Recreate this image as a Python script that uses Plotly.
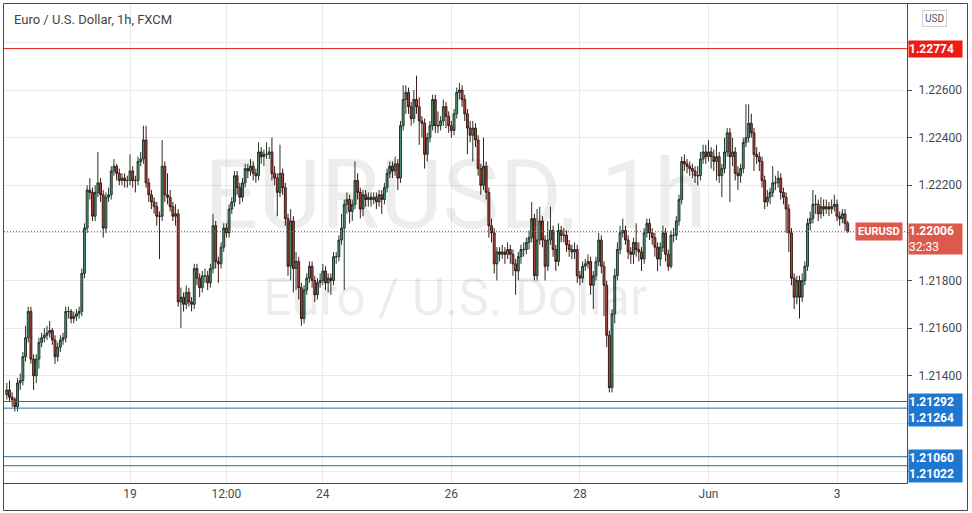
import pandas as pd
import plotly.graph_objects as go

# ---------------- data (EUR/USD 1h, FXCM) ----------------
start_time = "2021-05-17 02:00"
end_time = "2021-06-03 04:00"

opens = [
1.2132, 1.2134, 1.2131, 1.2130, 1.2127, 1.2137, 1.2138, 1.2148, 1.2156, 1.2167,
1.2147, 1.2140, 1.2147, 1.2154, 1.2156, 1.2157, 1.2158, 1.2159, 1.2155, 1.2148,
1.2152, 1.2155, 1.2156, 1.2167, 1.2167, 1.2164, 1.2165, 1.2166, 1.2167, 1.2183,
1.2202, 1.2218, 1.2217, 1.2207, 1.2217, 1.2221, 1.2216, 1.2202, 1.2215, 1.2216,
1.2226, 1.2228, 1.2225, 1.2222, 1.2223, 1.2222, 1.2222, 1.2226, 1.2222, 1.2222,
1.2230, 1.2231, 1.2239, 1.2221, 1.2216, 1.2213, 1.2211, 1.2207, 1.2207, 1.2228,
1.2216, 1.2215, 1.2211, 1.2207, 1.2208, 1.2171, 1.2173, 1.2170, 1.2175, 1.2171,
1.2170, 1.2185, 1.2181, 1.2177, 1.2182, 1.2182, 1.2179, 1.2185, 1.2203, 1.2188,
1.2187, 1.2194, 1.2202, 1.2200, 1.2210, 1.2213, 1.2224, 1.2219, 1.2215, 1.2221,
1.2227, 1.2226, 1.2228, 1.2225, 1.2224, 1.2234, 1.2232, 1.2233, 1.2233, 1.2234,
1.2225, 1.2223, 1.2217, 1.2225, 1.2219, 1.2206, 1.2186, 1.2205, 1.2185, 1.2188,
1.2177, 1.2164, 1.2176, 1.2181, 1.2186, 1.2180, 1.2174, 1.2179, 1.2180, 1.2184,
1.2179, 1.2181, 1.2180, 1.2190, 1.2190, 1.2197, 1.2202, 1.2212, 1.2214, 1.2209,
1.2212, 1.2222, 1.2217, 1.2210, 1.2216, 1.2214, 1.2215, 1.2214, 1.2215, 1.2213,
1.2216, 1.2214, 1.2219, 1.2225, 1.2228, 1.2226, 1.2229, 1.2223, 1.2245, 1.2256,
1.2259, 1.2253, 1.2248, 1.2256, 1.2253, 1.2247, 1.2246, 1.2233, 1.2240, 1.2245,
1.2256, 1.2245, 1.2245, 1.2247, 1.2253, 1.2249, 1.2245, 1.2243, 1.2250, 1.2259,
1.2260, 1.2256, 1.2250, 1.2244, 1.2241, 1.2244, 1.2239, 1.2227, 1.2220, 1.2228,
1.2217, 1.2203, 1.2200, 1.2187, 1.2192, 1.2191, 1.2192, 1.2191, 1.2193, 1.2191,
1.2187, 1.2184, 1.2190, 1.2193, 1.2193, 1.2196, 1.2198, 1.2206, 1.2182, 1.2197,
1.2205, 1.2197, 1.2186, 1.2197, 1.2201, 1.2193, 1.2188, 1.2201, 1.2199, 1.2199,
1.2195, 1.2193, 1.2192, 1.2193, 1.2182, 1.2181, 1.2186, 1.2187, 1.2188, 1.2178,
1.2182, 1.2188, 1.2197, 1.2186, 1.2178, 1.2157, 1.2135, 1.2166, 1.2182, 1.2193,
1.2200, 1.2201, 1.2197, 1.2192, 1.2191, 1.2196, 1.2193, 1.2192, 1.2189, 1.2200,
1.2204, 1.2200, 1.2198, 1.2194, 1.2189, 1.2194, 1.2200, 1.2191, 1.2186, 1.2199,
1.2199, 1.2205, 1.2214, 1.2230, 1.2229, 1.2228, 1.2227, 1.2226, 1.2224, 1.2224,
1.2231, 1.2234, 1.2232, 1.2234, 1.2232, 1.2230, 1.2232, 1.2224, 1.2227, 1.2234,
1.2242, 1.2232, 1.2234, 1.2225, 1.2224, 1.2227, 1.2238, 1.2240, 1.2246, 1.2242,
1.2233, 1.2232, 1.2230, 1.2222, 1.2213, 1.2215, 1.2217, 1.2221, 1.2221, 1.2223,
1.2217, 1.2215, 1.2210, 1.2200, 1.2181, 1.2173, 1.2180, 1.2173, 1.2180, 1.2186,
1.2204, 1.2206, 1.2212, 1.2212, 1.2208, 1.2211, 1.2210, 1.2211, 1.2210, 1.2211,
1.2212, 1.2207, 1.2206, 1.2208, 1.2204,
]

highs = [
1.2137, 1.2138, 1.2133, 1.2131, 1.2139, 1.2141, 1.2150, 1.2161, 1.2169, 1.2169,
1.2149, 1.2149, 1.2156, 1.2158, 1.2160, 1.2161, 1.2163, 1.2160, 1.2157, 1.2154,
1.2157, 1.2158, 1.2169, 1.2169, 1.2168, 1.2167, 1.2168, 1.2169, 1.2185, 1.2204,
1.2220, 1.2223, 1.2219, 1.2220, 1.2234, 1.2223, 1.2218, 1.2217, 1.2219, 1.2228,
1.2231, 1.2229, 1.2227, 1.2225, 1.2225, 1.2224, 1.2233, 1.2228, 1.2224, 1.2232,
1.2234, 1.2245, 1.2245, 1.2223, 1.2218, 1.2215, 1.2213, 1.2209, 1.2239, 1.2230,
1.2225, 1.2218, 1.2213, 1.2212, 1.2210, 1.2177, 1.2175, 1.2178, 1.2177, 1.2173,
1.2187, 1.2187, 1.2183, 1.2184, 1.2185, 1.2184, 1.2187, 1.2208, 1.2205, 1.2190,
1.2196, 1.2204, 1.2204, 1.2212, 1.2215, 1.2226, 1.2226, 1.2221, 1.2223, 1.2229,
1.2229, 1.2231, 1.2230, 1.2227, 1.2238, 1.2236, 1.2235, 1.2238, 1.2236, 1.2240,
1.2228, 1.2225, 1.2237, 1.2227, 1.2221, 1.2208, 1.2210, 1.2207, 1.2192, 1.2190,
1.2179, 1.2178, 1.2183, 1.2188, 1.2188, 1.2182, 1.2181, 1.2183, 1.2187, 1.2186,
1.2183, 1.2183, 1.2192, 1.2192, 1.2199, 1.2208, 1.2214, 1.2217, 1.2216, 1.2214,
1.2230, 1.2225, 1.2219, 1.2218, 1.2218, 1.2217, 1.2217, 1.2217, 1.2217, 1.2218,
1.2218, 1.2221, 1.2227, 1.2230, 1.2230, 1.2232, 1.2231, 1.2247, 1.2262, 1.2262,
1.2261, 1.2255, 1.2260, 1.2266, 1.2257, 1.2249, 1.2248, 1.2242, 1.2247, 1.2258,
1.2258, 1.2251, 1.2249, 1.2256, 1.2255, 1.2251, 1.2247, 1.2252, 1.2261, 1.2263,
1.2262, 1.2258, 1.2252, 1.2247, 1.2247, 1.2246, 1.2241, 1.2229, 1.2240, 1.2230,
1.2219, 1.2206, 1.2202, 1.2194, 1.2194, 1.2195, 1.2194, 1.2196, 1.2195, 1.2193,
1.2189, 1.2192, 1.2195, 1.2196, 1.2198, 1.2201, 1.2213, 1.2208, 1.2210, 1.2211,
1.2207, 1.2199, 1.2205, 1.2211, 1.2203, 1.2195, 1.2204, 1.2203, 1.2202, 1.2201,
1.2197, 1.2195, 1.2196, 1.2195, 1.2184, 1.2188, 1.2189, 1.2191, 1.2190, 1.2184,
1.2190, 1.2200, 1.2199, 1.2188, 1.2180, 1.2159, 1.2168, 1.2185, 1.2196, 1.2203,
1.2206, 1.2203, 1.2199, 1.2194, 1.2198, 1.2204, 1.2196, 1.2194, 1.2202, 1.2206,
1.2206, 1.2202, 1.2200, 1.2196, 1.2196, 1.2203, 1.2202, 1.2193, 1.2201, 1.2202,
1.2207, 1.2216, 1.2232, 1.2233, 1.2231, 1.2230, 1.2229, 1.2228, 1.2228, 1.2234,
1.2237, 1.2237, 1.2239, 1.2236, 1.2235, 1.2237, 1.2234, 1.2229, 1.2240, 1.2244,
1.2244, 1.2240, 1.2236, 1.2228, 1.2229, 1.2240, 1.2254, 1.2254, 1.2250, 1.2244,
1.2236, 1.2234, 1.2232, 1.2224, 1.2218, 1.2219, 1.2228, 1.2224, 1.2226, 1.2225,
1.2219, 1.2217, 1.2212, 1.2202, 1.2183, 1.2182, 1.2182, 1.2183, 1.2188, 1.2206,
1.2209, 1.2218, 1.2216, 1.2214, 1.2215, 1.2214, 1.2214, 1.2213, 1.2214, 1.2216,
1.2214, 1.2209, 1.2210, 1.2210, 1.2205,
]

lows = [
1.2130, 1.2129, 1.2127, 1.2125, 1.2125, 1.2134, 1.2136, 1.2146, 1.2154, 1.2145,
1.2134, 1.2137, 1.2143, 1.2152, 1.2154, 1.2155, 1.2156, 1.2153, 1.2145, 1.2146,
1.2150, 1.2153, 1.2154, 1.2164, 1.2162, 1.2162, 1.2163, 1.2164, 1.2165, 1.2181,
1.2200, 1.2214, 1.2205, 1.2205, 1.2215, 1.2213, 1.2198, 1.2200, 1.2213, 1.2214,
1.2224, 1.2222, 1.2220, 1.2220, 1.2219, 1.2219, 1.2220, 1.2219, 1.2217, 1.2220,
1.2228, 1.2229, 1.2219, 1.2213, 1.2210, 1.2208, 1.2203, 1.2189, 1.2205, 1.2213,
1.2212, 1.2209, 1.2205, 1.2203, 1.2169, 1.2160, 1.2167, 1.2168, 1.2169, 1.2167,
1.2168, 1.2178, 1.2173, 1.2175, 1.2179, 1.2176, 1.2177, 1.2183, 1.2185, 1.2179,
1.2185, 1.2192, 1.2198, 1.2198, 1.2208, 1.2211, 1.2216, 1.2212, 1.2213, 1.2219,
1.2223, 1.2224, 1.2222, 1.2221, 1.2222, 1.2229, 1.2228, 1.2231, 1.2231, 1.2222,
1.2220, 1.2207, 1.2215, 1.2216, 1.2203, 1.2182, 1.2180, 1.2175, 1.2176, 1.2172,
1.2161, 1.2162, 1.2174, 1.2179, 1.2177, 1.2171, 1.2172, 1.2177, 1.2178, 1.2176,
1.2175, 1.2174, 1.2178, 1.2187, 1.2188, 1.2195, 1.2176, 1.2208, 1.2204, 1.2205,
1.2210, 1.2214, 1.2206, 1.2207, 1.2211, 1.2211, 1.2211, 1.2212, 1.2210, 1.2211,
1.2208, 1.2212, 1.2217, 1.2223, 1.2223, 1.2224, 1.2218, 1.2221, 1.2243, 1.2250,
1.2250, 1.2245, 1.2246, 1.2250, 1.2237, 1.2240, 1.2227, 1.2230, 1.2238, 1.2243,
1.2242, 1.2242, 1.2243, 1.2245, 1.2244, 1.2242, 1.2240, 1.2241, 1.2248, 1.2256,
1.2253, 1.2247, 1.2233, 1.2238, 1.2230, 1.2236, 1.2224, 1.2216, 1.2218, 1.2214,
1.2198, 1.2196, 1.2183, 1.2180, 1.2188, 1.2189, 1.2187, 1.2189, 1.2187, 1.2182,
1.2174, 1.2180, 1.2187, 1.2190, 1.2191, 1.2193, 1.2196, 1.2180, 1.2180, 1.2195,
1.2194, 1.2180, 1.2184, 1.2195, 1.2190, 1.2184, 1.2186, 1.2196, 1.2196, 1.2192,
1.2190, 1.2189, 1.2189, 1.2179, 1.2178, 1.2179, 1.2184, 1.2185, 1.2174, 1.2168,
1.2180, 1.2186, 1.2183, 1.2165, 1.2152, 1.2133, 1.2133, 1.2162, 1.2180, 1.2191,
1.2198, 1.2195, 1.2189, 1.2187, 1.2187, 1.2190, 1.2188, 1.2184, 1.2187, 1.2198,
1.2197, 1.2195, 1.2190, 1.2184, 1.2186, 1.2192, 1.2188, 1.2184, 1.2185, 1.2196,
1.2197, 1.2203, 1.2212, 1.2226, 1.2225, 1.2224, 1.2223, 1.2221, 1.2220, 1.2222,
1.2229, 1.2229, 1.2230, 1.2227, 1.2226, 1.2222, 1.2221, 1.2215, 1.2225, 1.2232,
1.2213, 1.2228, 1.2222, 1.2218, 1.2221, 1.2225, 1.2236, 1.2238, 1.2240, 1.2226,
1.2229, 1.2226, 1.2219, 1.2210, 1.2211, 1.2212, 1.2215, 1.2218, 1.2219, 1.2214,
1.2212, 1.2200, 1.2192, 1.2178, 1.2168, 1.2170, 1.2164, 1.2171, 1.2178, 1.2184,
1.2201, 1.2204, 1.2208, 1.2205, 1.2206, 1.2207, 1.2208, 1.2207, 1.2208, 1.2209,
1.2205, 1.2203, 1.2204, 1.2201, 1.2200,
]

closes = [
1.2134, 1.2131, 1.2130, 1.2127, 1.2137, 1.2138, 1.2148, 1.2156, 1.2167, 1.2147,
1.2140, 1.2147, 1.2154, 1.2156, 1.2157, 1.2158, 1.2159, 1.2155, 1.2148, 1.2152,
1.2155, 1.2156, 1.2167, 1.2167, 1.2164, 1.2165, 1.2166, 1.2167, 1.2183, 1.2202,
1.2218, 1.2217, 1.2207, 1.2217, 1.2221, 1.2216, 1.2202, 1.2215, 1.2216, 1.2226,
1.2228, 1.2225, 1.2222, 1.2223, 1.2222, 1.2222, 1.2226, 1.2222, 1.2222, 1.2230,
1.2231, 1.2239, 1.2221, 1.2216, 1.2213, 1.2211, 1.2207, 1.2207, 1.2228, 1.2216,
1.2215, 1.2211, 1.2207, 1.2208, 1.2171, 1.2173, 1.2170, 1.2175, 1.2171, 1.2170,
1.2185, 1.2181, 1.2177, 1.2182, 1.2182, 1.2179, 1.2185, 1.2203, 1.2188, 1.2187,
1.2194, 1.2202, 1.2200, 1.2210, 1.2213, 1.2224, 1.2219, 1.2215, 1.2221, 1.2227,
1.2226, 1.2228, 1.2225, 1.2224, 1.2234, 1.2232, 1.2233, 1.2233, 1.2234, 1.2225,
1.2223, 1.2217, 1.2225, 1.2219, 1.2206, 1.2186, 1.2205, 1.2185, 1.2188, 1.2177,
1.2164, 1.2176, 1.2181, 1.2186, 1.2180, 1.2174, 1.2179, 1.2180, 1.2184, 1.2179,
1.2181, 1.2180, 1.2190, 1.2190, 1.2197, 1.2202, 1.2212, 1.2214, 1.2209, 1.2212,
1.2222, 1.2217, 1.2210, 1.2216, 1.2214, 1.2215, 1.2214, 1.2215, 1.2213, 1.2216,
1.2214, 1.2219, 1.2225, 1.2228, 1.2226, 1.2229, 1.2223, 1.2245, 1.2256, 1.2259,
1.2253, 1.2248, 1.2256, 1.2253, 1.2247, 1.2246, 1.2233, 1.2240, 1.2245, 1.2256,
1.2245, 1.2245, 1.2247, 1.2253, 1.2249, 1.2245, 1.2243, 1.2250, 1.2259, 1.2260,
1.2256, 1.2250, 1.2244, 1.2241, 1.2244, 1.2239, 1.2227, 1.2220, 1.2228, 1.2217,
1.2203, 1.2200, 1.2187, 1.2192, 1.2191, 1.2192, 1.2191, 1.2193, 1.2191, 1.2187,
1.2184, 1.2190, 1.2193, 1.2193, 1.2196, 1.2198, 1.2206, 1.2182, 1.2197, 1.2205,
1.2197, 1.2186, 1.2197, 1.2201, 1.2193, 1.2188, 1.2201, 1.2199, 1.2199, 1.2195,
1.2193, 1.2192, 1.2193, 1.2182, 1.2181, 1.2186, 1.2187, 1.2188, 1.2178, 1.2182,
1.2188, 1.2197, 1.2186, 1.2178, 1.2157, 1.2135, 1.2166, 1.2182, 1.2193, 1.2200,
1.2201, 1.2197, 1.2192, 1.2191, 1.2196, 1.2193, 1.2192, 1.2189, 1.2200, 1.2204,
1.2200, 1.2198, 1.2194, 1.2189, 1.2194, 1.2200, 1.2191, 1.2186, 1.2199, 1.2199,
1.2205, 1.2214, 1.2230, 1.2229, 1.2228, 1.2227, 1.2226, 1.2224, 1.2224, 1.2231,
1.2234, 1.2232, 1.2234, 1.2232, 1.2230, 1.2232, 1.2224, 1.2227, 1.2234, 1.2242,
1.2232, 1.2234, 1.2225, 1.2224, 1.2227, 1.2238, 1.2240, 1.2246, 1.2242, 1.2233,
1.2232, 1.2230, 1.2222, 1.2213, 1.2215, 1.2217, 1.2221, 1.2221, 1.2223, 1.2217,
1.2215, 1.2210, 1.2200, 1.2181, 1.2173, 1.2180, 1.2173, 1.2180, 1.2186, 1.2204,
1.2206, 1.2212, 1.2212, 1.2208, 1.2211, 1.2210, 1.2211, 1.2210, 1.2211, 1.2212,
1.2207, 1.2206, 1.2208, 1.2204, 1.22006,
]

red_level = 1.22774
blue_levels = [1.21292, 1.21264, 1.21060, 1.21022]
last_price = 1.22006
countdown = "32:33"

tick_times = ["2021-05-19 00:00", "2021-05-20 12:00", "2021-05-24 00:00",
              "2021-05-26 00:00", "2021-05-28 00:00", "2021-06-01 00:00",
              "2021-06-03 00:00"]
tick_labels = ["19", "12:00", "24", "26", "28", "Jun", "3"]
price_ticks = [1.210, 1.212, 1.214, 1.216, 1.218, 1.220, 1.222, 1.224, 1.226, 1.228]
# grid levels whose axis text is covered by the level / price tags
covered_ticks = [1.210, 1.212, 1.220, 1.228]

# ---------------- hourly FX session timestamps (no weekend) ----------------
hours = pd.date_range(start_time, end_time, freq="h")
times = [t.strftime("%Y-%m-%d %H:%M") for t in hours
         if not ((t.weekday() == 4 and t.hour >= 21) or t.weekday() == 5
                 or (t.weekday() == 6 and t.hour < 21))]

FONT = "Roboto, Arial, sans-serif"
AXIS_TXT = "#4a4a4a"

fig = go.Figure()
fig.add_trace(go.Candlestick(
    x=times, open=opens, high=highs, low=lows, close=closes,
    increasing=dict(line=dict(color="#22352b", width=1), fillcolor="#4f9c76"),
    decreasing=dict(line=dict(color="#3a1a15", width=1), fillcolor="#c0463a"),
    whiskerwidth=0, hoverinfo="skip", showlegend=False,
))

W, H = 972, 513
plot_l, plot_r = 4, 907
plot_t, plot_b = 4, 483

shapes = []
shapes.append(dict(type="line", xref="paper", yref="y", x0=0, x1=1,
                   y0=red_level, y1=red_level, line=dict(color="#e8211b", width=1)))
for lv in blue_levels:
    shapes.append(dict(type="line", xref="paper", yref="y", x0=0, x1=1,
                       y0=lv, y1=lv, line=dict(color="#2a6f8e", width=1)))
shapes.append(dict(type="line", xref="paper", yref="y", x0=0, x1=1,
                   y0=last_price, y1=last_price,
                   line=dict(color="#e0483a", width=1, dash="1px,2px")))

pw = plot_r - plot_l
ph = plot_b - plot_t
def px_x(p):
    return (p - plot_l) / pw
def px_y(p):
    return (plot_b - p) / ph

shapes.append(dict(type="rect", xref="paper", yref="paper",
                   x0=px_x(3.5), x1=px_x(967.5), y0=px_y(510.5), y1=px_y(3.5),
                   line=dict(color="#4a4a4a", width=1), fillcolor="rgba(0,0,0,0)"))

annotations = []
annotations.append(dict(text="EURUSD, 1h", xref="paper", yref="paper",
                        x=px_x(455), y=px_y(195), showarrow=False,
                        font=dict(family=FONT, size=96, color="rgba(0,0,0,0.07)")))
annotations.append(dict(text="Euro / U.S. Dollar", xref="paper", yref="paper",
                        x=px_x(455), y=px_y(297), showarrow=False,
                        font=dict(family=FONT, size=51, color="rgba(0,0,0,0.07)")))
annotations.append(dict(text="Euro / U.S. Dollar, 1h, FXCM", xref="paper", yref="paper",
                        x=px_x(12), y=px_y(20), xanchor="left", yanchor="middle",
                        showarrow=False,
                        font=dict(family=FONT, size=13, color="#444444")))
annotations.append(dict(text="USD", xref="paper", yref="paper",
                        x=px_x(934), y=px_y(19), xanchor="center", yanchor="middle",
                        showarrow=False, bordercolor="#cfcfcf", borderwidth=1, borderpad=2,
                        bgcolor="#ffffff",
                        font=dict(family=FONT, size=10, color="#555555")))

def axis_label(text, yval, color, height=16, yshift=0):
    annotations.append(dict(text="<b>" + text + "</b>", xref="paper", yref="y",
                            x=1.0, y=yval, xanchor="left", yanchor="middle",
                            xshift=1, yshift=yshift, showarrow=False, bgcolor=color,
                            width=53, height=height, align="left", borderpad=0,
                            font=dict(family=FONT, size=12, color="#ffffff")))

axis_label(f"{red_level:.5f}", red_level, "#f21a14")
axis_label(f"{blue_levels[0]:.5f}", blue_levels[0], "#1f77d0", yshift=-1)
axis_label(f"{blue_levels[1]:.5f}", blue_levels[1], "#1f77d0", yshift=-10)
axis_label(f"{blue_levels[2]:.5f}", blue_levels[2], "#1f77d0", yshift=-1)
axis_label(f"{blue_levels[3]:.5f}", blue_levels[3], "#1f77d0", yshift=-8)
annotations.append(dict(text=f"<b>{last_price:.5f}</b><br>{countdown}", xref="paper", yref="y",
                        x=1.0, y=last_price, xanchor="left", yanchor="top", yshift=8,
                        xshift=1, showarrow=False, bgcolor="#dc5a4b",
                        width=53, height=30, align="left", borderpad=0,
                        font=dict(family=FONT, size=12, color="#ffffff")))
annotations.append(dict(text="<b>EURUSD</b>", xref="paper", yref="y",
                        x=px_x(903), y=last_price, xanchor="right", yanchor="middle",
                        showarrow=False, bgcolor="#dc5a4b", borderpad=2,
                        font=dict(family=FONT, size=11, color="#ffffff")))

# y-axis mapping: 1.226 at y=90px, 1.210 at y=471px
ppu = (471 - 90) / 0.016
y_top = 1.226 + (90 - plot_t) / ppu
y_bot = 1.226 - (plot_b - 90) / ppu

# x-axis mapping: index 46 at 130px, index 310 at 837px
ppi = (837 - 130) / (310 - 46)
x_lo = 46 - (130 - plot_l) / ppi
x_hi = 310 + (plot_r - 837) / ppi

fig.update_layout(
    width=W, height=H,
    margin=dict(l=plot_l, r=W - plot_r, t=plot_t, b=H - plot_b, autoexpand=False),
    paper_bgcolor="#ffffff", plot_bgcolor="#ffffff",
    shapes=shapes, annotations=annotations, boxgap=0.0,
    font=dict(family=FONT, color=AXIS_TXT),
    xaxis=dict(type="category", range=[x_lo, x_hi], rangeslider=dict(visible=False),
               tickmode="array", tickvals=tick_times, ticktext=tick_labels,
               showgrid=True, gridcolor="#e9e9e9", gridwidth=1,
               showline=True, linecolor="#4a4a4a", linewidth=1,
               ticks="", tickfont=dict(family=FONT, size=12, color=AXIS_TXT),
               zeroline=False, fixedrange=True),
    yaxis=dict(side="right", range=[y_bot, y_top], tickmode="array",
               tickvals=price_ticks,
               ticktext=["" if v in covered_ticks else f"{v:.5f}" for v in price_ticks],
               showgrid=True, gridcolor="#e9e9e9", gridwidth=1,
               showline=True, linecolor="#4a4a4a", linewidth=1,
               ticks="outside", ticklen=4, tickcolor="#4a4a4a", ticklabelstandoff=4,
               tickfont=dict(family=FONT, size=12, color=AXIS_TXT),
               zeroline=False, fixedrange=True),
    hovermode=False,
)

fig.write_html("out.html", config={"displayModeBar": False},
               post_script="document.body.style.margin='0px';")
